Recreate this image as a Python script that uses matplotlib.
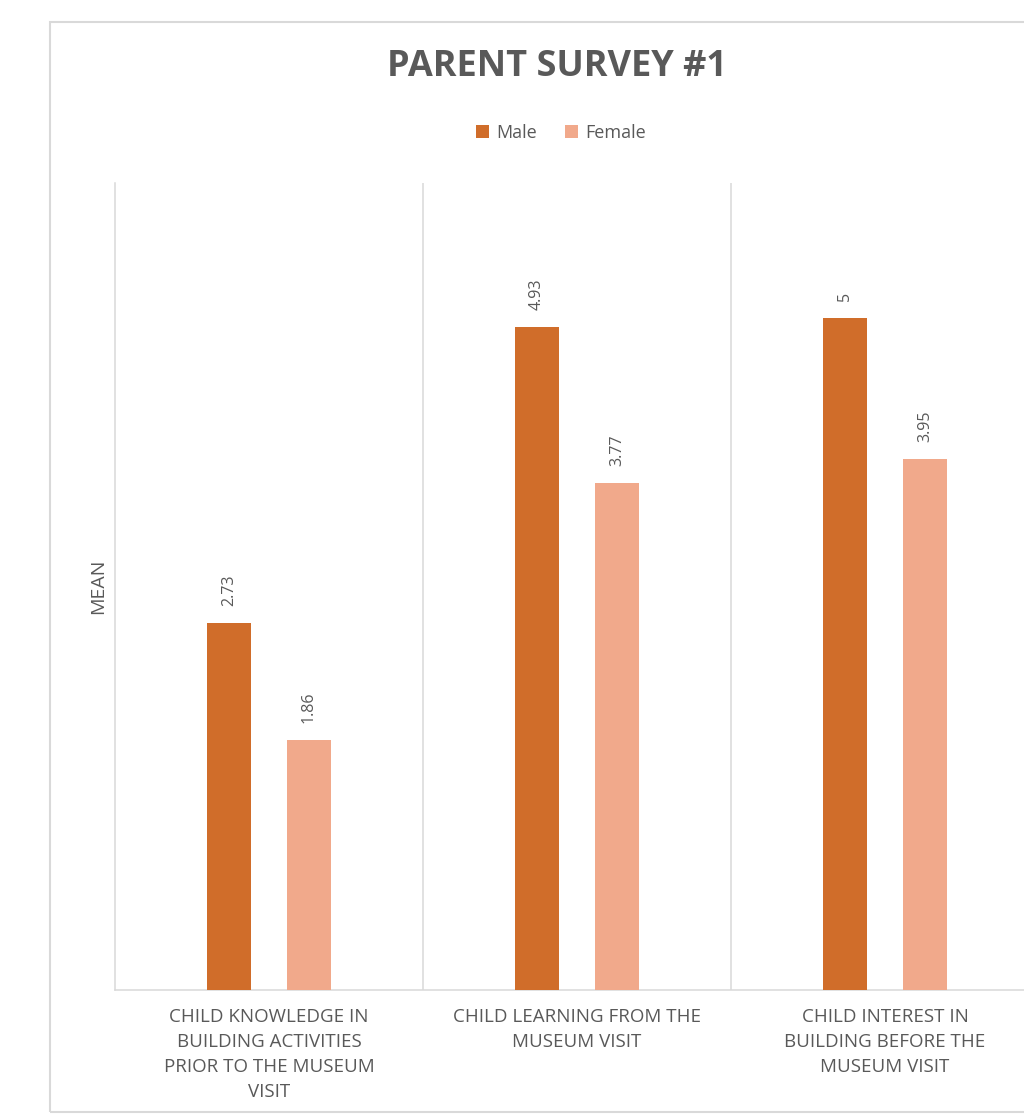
import matplotlib
matplotlib.use('Agg')
from matplotlib import pyplot as plt
from matplotlib.patches import Rectangle

# data
categories = ['CHILD KNOWLEDGE IN\nBUILDING ACTIVITIES\nPRIOR TO THE MUSEUM\nVISIT',
              'CHILD LEARNING FROM THE\nMUSEUM VISIT',
              'CHILD INTEREST IN\nBUILDING BEFORE THE\nMUSEUM VISIT']
male = [2.73, 4.93, 5]
female = [1.86, 3.77, 3.95]
male_labels = ['2.73', '4.93', '5']
female_labels = ['1.86', '3.77', '3.95']

plt.rcParams['font.family'] = ['Open Sans', 'DejaVu Sans']
grey_text = '#595959'
grid_col = '#d9d9d9'
c_male = '#D06D2A'
c_female = '#F1A98B'

fig = plt.figure(figsize=(10.24, 11.19), dpi=100)

# chart border (cropped on the right)
fig.patches.append(Rectangle((50 / 1024, 1 - 1112 / 1119), 1.2, (1112 - 22) / 1119,
                             transform=fig.transFigure, fill=False,
                             edgecolor=grid_col, linewidth=1.5))

ax = fig.add_axes([115 / 1024, 1 - 990 / 1119, 924 / 1024, (990 - 183) / 1119])

x = list(range(len(categories)))
w = 0.14
off = 0.13
bm = ax.bar([i - off for i in x], male, width=w, color=c_male, label='Male', zorder=3)
bf = ax.bar([i + off for i in x], female, width=w, color=c_female, label='Female', zorder=3)

for rect, lab in zip(bm, male_labels):
    ax.annotate(lab, (rect.get_x() + rect.get_width() / 2, rect.get_height()),
                xytext=(0, 12), textcoords='offset points', rotation=90,
                ha='center', va='bottom', fontsize=11.5, color=grey_text)
for rect, lab in zip(bf, female_labels):
    ax.annotate(lab, (rect.get_x() + rect.get_width() / 2, rect.get_height()),
                xytext=(0, 12), textcoords='offset points', rotation=90,
                ha='center', va='bottom', fontsize=11.5, color=grey_text)

ax.set_xlim(-0.5, 2.5)
ax.set_ylim(0, 6)
for b in [0.5, 1.5]:
    ax.axvline(b, color=grid_col, linewidth=1.1, zorder=1)

for s in ['top', 'right']:
    ax.spines[s].set_visible(False)
ax.spines['left'].set_color(grid_col)
ax.spines['bottom'].set_color(grid_col)
ax.spines['left'].set_linewidth(1.1)
ax.spines['bottom'].set_linewidth(1.1)

ax.set_yticks([])
ax.set_xticks(x)
ax.set_xticklabels(categories, fontsize=13.5, color=grey_text, linespacing=1.5)
ax.tick_params(axis='x', length=0, pad=13)
ax.set_ylabel('MEAN', fontsize=14, color=grey_text, labelpad=6)

fig.text(557 / 1024, 1 - 67 / 1119, 'PARENT SURVEY #1', ha='center', va='center',
         fontsize=26, fontweight='bold', color=grey_text)

fig.legend(handles=[bm, bf], labels=['Male', 'Female'], loc='center',
           bbox_to_anchor=(561 / 1024, 1 - 133 / 1119), ncol=2, frameon=False,
           fontsize=13, handlelength=0.7, handleheight=0.7, handletextpad=0.4,
           columnspacing=1.6, labelcolor=grey_text)

fig.savefig('out.png', dpi=100)
